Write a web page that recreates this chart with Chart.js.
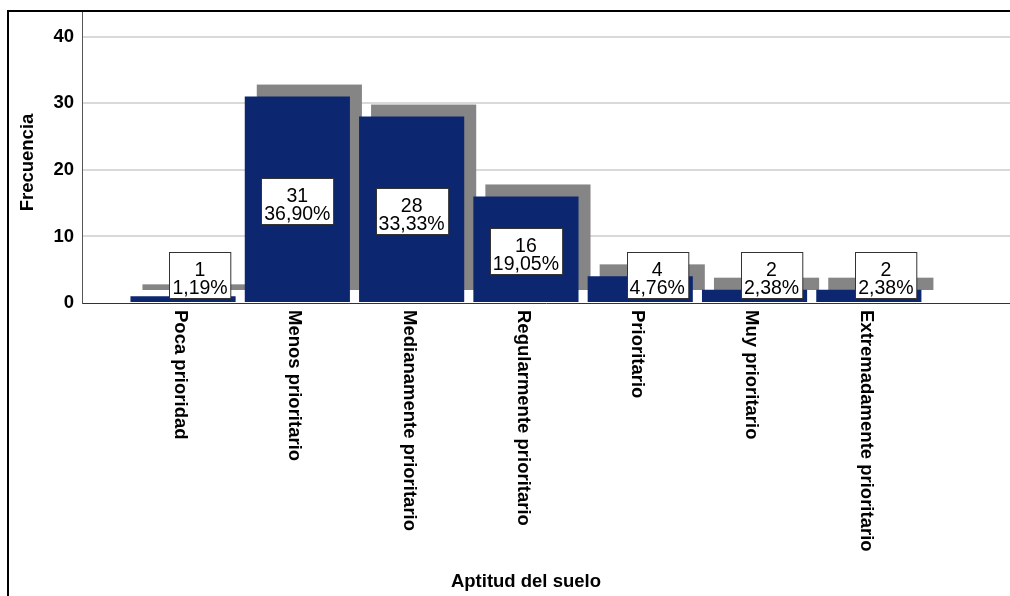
<!DOCTYPE html>
<html>
<head>
<meta charset="utf-8">
<script src="https://cdn.jsdelivr.net/npm/chart.js@4/dist/chart.umd.min.js"></script>
<style>
  body { margin: 0; background: #fff; }
  canvas { display: block; }
</style>
</head>
<body>
<canvas id="chart" width="1010" height="596"></canvas>
<script>
// Data
const categories = ['Poca prioridad', 'Menos prioritario', 'Medianamente prioritario',
    'Regularmente prioritario', 'Prioritario', 'Muy prioritario', 'Extremadamente prioritario'];
const counts = [1, 31, 28, 16, 4, 2, 2];
const percents = ['1,19%', '36,90%', '33,33%', '19,05%', '4,76%', '2,38%', '2,38%'];
const yTicks = [0, 10, 20, 30, 40];

const FONT = '"Liberation Sans", Arial, sans-serif';
const BLUE = '#0c2770';
const SHADOW = '#858585';

// gray offset bar behind each blue one (SPSS style shadow)
const shadowPlugin = {
    id: 'shadow',
    beforeDatasetsDraw(chart) {
        const ctx = chart.ctx;
        const meta = chart.getDatasetMeta(0);
        ctx.save();
        ctx.fillStyle = SHADOW;
        meta.data.forEach(bar => {
            const w = bar.width;
            ctx.fillRect(bar.x - w / 2 + 12, bar.y - 12, w, bar.base - bar.y);
        });
        ctx.restore();
    }
};

// value boxes, rotated category labels, axis titles and frame
const labelsPlugin = {
    id: 'labels',
    afterDatasetsDraw(chart) {
        const ctx = chart.ctx;
        const meta = chart.getDatasetMeta(0);
        ctx.save();
        ctx.font = '19.5px ' + FONT;
        meta.data.forEach((bar, i) => {
            const l1 = String(counts[i]);
            const l2 = percents[i];
            const w = Math.max(ctx.measureText(l1).width, ctx.measureText(l2).width) + 6;
            const h = 46;
            let cx = bar.x;
            let top = (bar.y + bar.base) / 2 + 2 - h / 2;
            if (bar.base - bar.y < h + 10) {
                cx = bar.x + 17;
                top = bar.base - 4 - h;
            }
            const left = Math.round(cx - w / 2) + 0.5;
            top = Math.round(top) + 0.5;
            ctx.fillStyle = '#fff';
            ctx.fillRect(left, top, w, h);
            ctx.strokeStyle = '#333';
            ctx.lineWidth = 1;
            ctx.strokeRect(left, top, w, h);
            ctx.fillStyle = '#000';
            ctx.textAlign = 'center';
            ctx.textBaseline = 'alphabetic';
            ctx.fillText(l1, cx, top + 23);
            ctx.fillText(l2, cx, top + 41);
        });
        ctx.restore();
    },
    afterDraw(chart) {
        const ctx = chart.ctx;
        const x = chart.scales.x;
        const area = chart.chartArea;
        ctx.save();
        ctx.fillStyle = '#000';
        ctx.font = 'bold 18.5px ' + FONT;
        // category labels, reading top to bottom
        categories.forEach((c, i) => {
            ctx.save();
            ctx.translate(x.getPixelForValue(i) - 3, area.bottom + 7);
            ctx.rotate(Math.PI / 2);
            ctx.textAlign = 'left';
            ctx.textBaseline = 'middle';
            ctx.fillText(c, 0, 0);
            ctx.restore();
        });
        // x title centred on the categories
        const mid = (x.getPixelForValue(-0.5) + x.getPixelForValue(categories.length - 0.5)) / 2;
        ctx.textAlign = 'center';
        ctx.textBaseline = 'alphabetic';
        ctx.fillText('Aptitud del suelo', mid, 587);
        // y title
        ctx.save();
        ctx.translate(33, (area.top + area.bottom) / 2 + 6);
        ctx.rotate(-Math.PI / 2);
        ctx.fillText('Frecuencia', 0, 0);
        ctx.restore();
        // frame
        ctx.strokeStyle = '#000';
        ctx.lineWidth = 2;
        ctx.beginPath();
        ctx.moveTo(8, 596);
        ctx.lineTo(8, 11);
        ctx.lineTo(1010, 11);
        ctx.stroke();
        ctx.restore();
    }
};

new Chart(document.getElementById('chart'), {
    type: 'bar',
    data: {
        datasets: [{
            label: 'Frecuencia',
            data: counts.map((v, i) => ({ x: i, y: v })),
            backgroundColor: BLUE,
            barPercentage: 0.92,
            categoryPercentage: 1
        }]
    },
    options: {
        responsive: false,
        animation: false,
        layout: { padding: { top: 10, left: 0, right: 0, bottom: 0 } },
        plugins: {
            legend: { display: false },
            tooltip: { enabled: false }
        },
        scales: {
            x: {
                type: 'linear',
                offset: false,
                min: -0.884,
                max: 7.235,
                afterBuildTicks(scale) {
                    scale.ticks = categories.map((c, i) => ({ value: i }));
                },
                ticks: { display: false },
                grid: { display: false },
                border: { display: true, color: '#333', width: 1 },
                afterFit(scale) {
                    scale.height = 293;
                    scale.paddingLeft = 0;
                    scale.paddingRight = 0;
                }
            },
            y: {
                min: 0,
                max: 44,
                afterBuildTicks(scale) {
                    scale.ticks = yTicks.map(v => ({ value: v }));
                },
                ticks: {
                    padding: 8,
                    color: '#000',
                    font: { family: FONT, size: 18.5, weight: 'bold' }
                },
                grid: {
                    drawTicks: false,
                    color: ctx => ctx.tick && ctx.tick.value > 0 ? '#d9d9d9' : 'rgba(0,0,0,0)',
                    lineWidth: 2
                },
                border: { display: true, color: '#555', width: 1 },
                afterFit(scale) {
                    scale.width = 82;
                    scale.paddingTop = 0;
                    scale.paddingBottom = 0;
                }
            }
        }
    },
    plugins: [shadowPlugin, labelsPlugin]
});
</script>
</body>
</html>
